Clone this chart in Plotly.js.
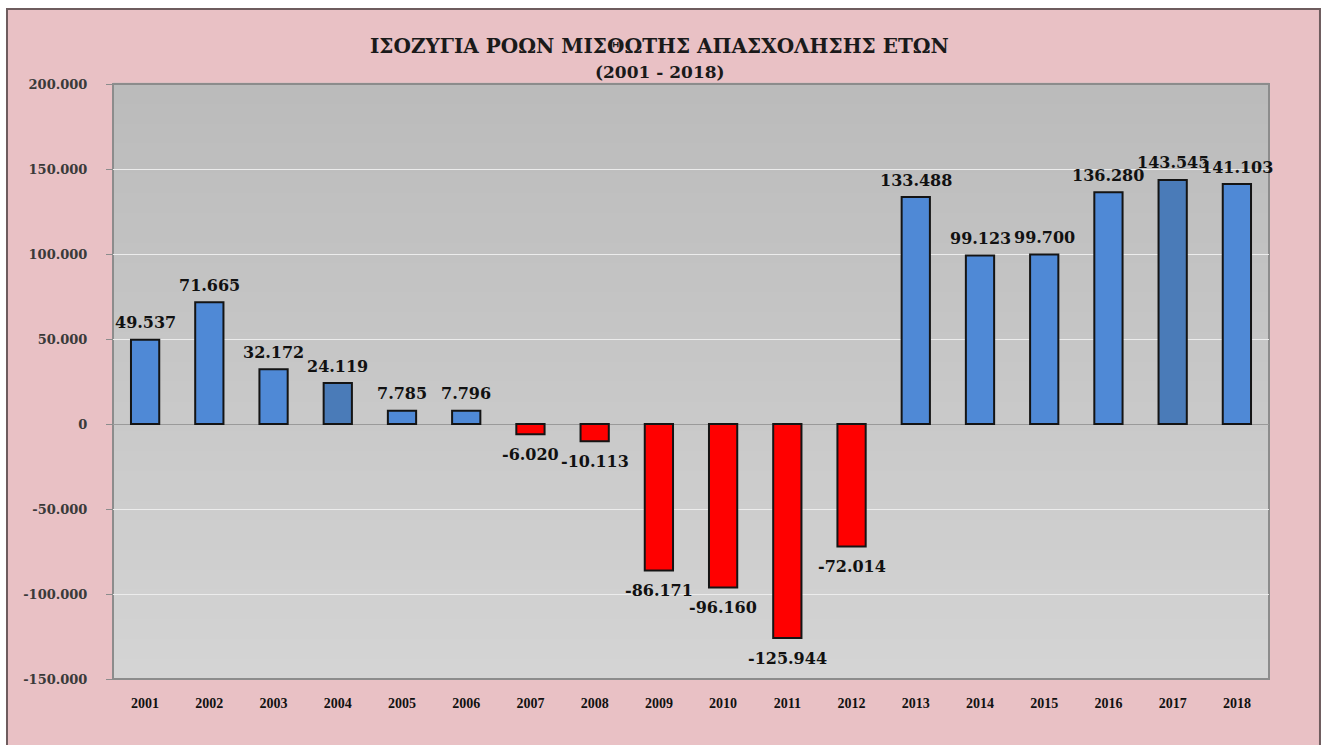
<!DOCTYPE html>
<html>
<head>
<meta charset="utf-8">
<script src="https://cdn.plot.ly/plotly-3.0.1.min.js"></script>
<style>html,body{margin:0;padding:0;background:#fff;}#chart{width:1326px;height:745px;}</style>
</head>
<body>
<div id="chart"></div>
<script>
const years = ["2001","2002","2003","2004","2005","2006","2007","2008","2009","2010","2011","2012","2013","2014","2015","2016","2017","2018"];
const balance = [49537, 71665, 32172, 24119, 7785, 7796, -6020, -10113, -86171, -96160, -125944, -72014, 133488, 99123, 99700, 136280, 143545, 141103];
const yTicks = [-150000, -100000, -50000, 0, 50000, 100000, 150000, 200000];
const titleLine1 = "ΙΣΟΖΥΓΙΑ ΡΟΩΝ ΜΙΣΘΩΤΗΣ ΑΠΑΣΧΟΛΗΣΗΣ ΕΤΩΝ";
const titleLine2 = "(2001 - 2018)";

function fmt(v) {
  const s = Math.abs(v).toString().replace(/\B(?=(\d{3})+(?!\d))/g, ".");
  return (v < 0 ? "-" : "") + s;
}

const darker = {"2004": true, "2017": true};
const colors = balance.map((v, i) => v < 0 ? "#ff0000" : (darker[years[i]] ? "#4a7bb8" : "#4f89d6"));

const trace = {
  type: "bar",
  x: years,
  y: balance,
  marker: { color: colors, line: { color: "#141414", width: 2 } },
  hoverinfo: "x+y"
};

const labelFont = { family: "DejaVu Serif", size: 16, color: "#111" };
const annotations = years.map((yr, i) => ({
  x: i, y: balance[i], xref: "x", yref: "y",
  text: "<b>" + fmt(balance[i]) + "</b>",
  showarrow: false,
  yanchor: "middle",
  yshift: balance[i] >= 0 ? 17 : -20,
  font: labelFont
}));
annotations.push({
  xref: "paper", yref: "paper", x: 0.473, y: 1.0639, xanchor: "center", yanchor: "middle",
  text: "<b>" + titleLine1 + "</b>", showarrow: false,
  font: { family: "DejaVu Serif", size: 20, color: "#1a1a1a" }
});
annotations.push({
  xref: "paper", yref: "paper", x: 0.473, y: 1.0202, xanchor: "center", yanchor: "middle",
  text: "<b>" + titleLine2 + "</b>", showarrow: false,
  font: { family: "DejaVu Serif", size: 17, color: "#1a1a1a" }
});

const shapes = [];
shapes.push({ type: "rect", xref: "paper", yref: "paper", x0: -0.0917, x1: 1.0441, y0: -0.14, y1: 1.1261,
  fillcolor: "#e9c1c5", line: { color: "#6e5c5e", width: 2 }, layer: "below" });
const bands = 60;
function lerp(a, b, t) { return Math.round(a + (b - a) * t); }
for (let k = 0; k < bands; k++) {
  const t = k / (bands - 1);
  const c = lerp(0xd4, 0xbb, t);
  const col = "rgb(" + c + "," + c + "," + c + ")";
  shapes.push({ type: "rect", xref: "paper", yref: "paper", x0: 0, x1: 1,
    y0: k / bands, y1: (k + 1) / bands + 0.002, fillcolor: col, line: { width: 0 }, layer: "below" });
}
shapes.push({ type: "rect", xref: "paper", yref: "paper", x0: 0, x1: 1, y0: 0, y1: 1,
  fillcolor: "rgba(0,0,0,0)", line: { color: "#8c8c8c", width: 2 }, layer: "below" });

const layout = {
  width: 1326, height: 745,
  margin: { l: 113, r: 57, t: 84, b: 66 },
  paper_bgcolor: "#ffffff",
  plot_bgcolor: "rgba(0,0,0,0)",
  showlegend: false,
  bargap: 0.56,
  xaxis: {
    type: "category",
    range: [-0.5, years.length - 0.5],
    tickfont: { family: "Liberation Serif", size: 14, color: "#111" },
    ticks: "", showline: false, showgrid: false,
    ticklabelstandoff: 14,
    tickprefix: "<b>", ticksuffix: "</b>"
  },
  yaxis: {
    range: [-150000, 200000],
    tickvals: yTicks,
    ticktext: yTicks.map(v => "<b>" + fmt(v) + "</b>"),
    tickfont: { family: "DejaVu Serif", size: 13, color: "#3a3a3a" },
    showgrid: true, gridcolor: "#ececec", gridwidth: 1,
    zeroline: true, zerolinecolor: "#9a9a9a", zerolinewidth: 1,
    ticks: "outside", ticklen: 6, tickcolor: "#8c8c8c",
    ticklabelstandoff: 16,
    showline: false
  },
  annotations: annotations,
  shapes: shapes
};

Plotly.newPlot("chart", [trace], layout, { displayModeBar: false, staticPlot: true });
</script>
</body>
</html>
